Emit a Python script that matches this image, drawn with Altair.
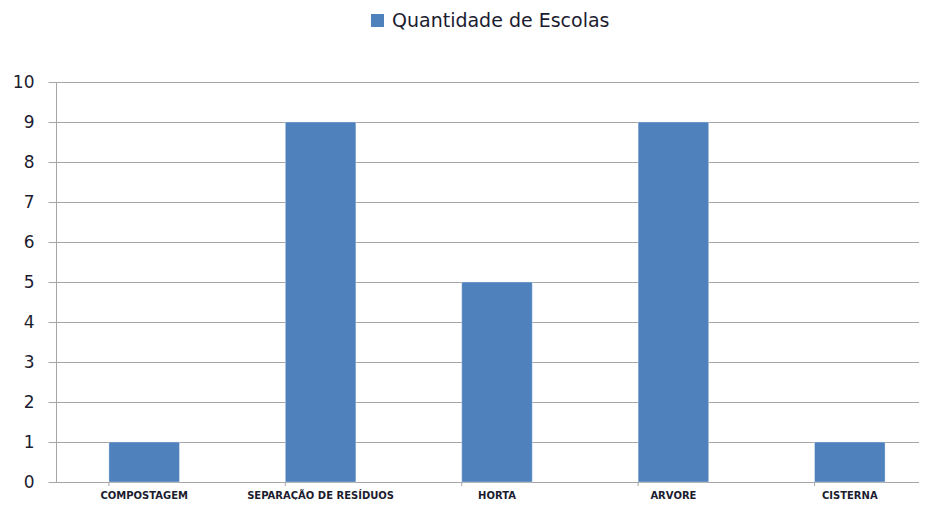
import altair as alt
import pandas as pd

categories = ["COMPOSTAGEM", "SEPARAÇÃO DE RESÍDUOS", "HORTA", "ARVORE", "CISTERNA"]
values = [1, 9, 5, 9, 1]
series_name = "Quantidade de Escolas"
y_ticks = [0, 1, 2, 3, 4, 5, 6, 7, 8, 9, 10]

df = pd.DataFrame({"cat": categories, "val": values, "series": [series_name] * len(categories)})

W, H = 863, 400
GRID = "#a6a6a6"
TXT = "#1c1c30"

xscale = alt.Scale(domain=categories, range=[0, 882], paddingInner=0.6, paddingOuter=0.3)
xaxis = alt.Axis(title=None, labelAngle=0, ticks=False, labelPadding=8, labelFontSize=10,
                 labelFont="DejaVu Sans", labelFontWeight="bold", labelColor=TXT,
                 domainColor=GRID, domainWidth=1, grid=False, labelLimit=300)

bars = alt.Chart(df).mark_bar(stroke="#ffffff", strokeOpacity=0.35, strokeWidth=1).encode(
    x=alt.X("cat:N", sort=categories, scale=xscale, axis=xaxis),
    y=alt.Y("val:Q", scale=alt.Scale(domain=[0, 10], nice=False),
            axis=alt.Axis(title=None, values=y_ticks, grid=True, gridColor=GRID, gridWidth=1,
                          tickColor=GRID, tickSize=8, domainColor=GRID, labelPadding=14,
                          labelFontSize=17, labelFont="DejaVu Sans", labelColor=TXT)),
    color=alt.Color("series:N", scale=alt.Scale(range=["#4f81bd"]),
                    legend=alt.Legend(title=None, orient="none", legendX=312, legendY=-71,
                                      symbolType="square", symbolSize=169, symbolStrokeWidth=0,
                                      labelFontSize=19, labelFont="DejaVu Sans", labelColor=TXT,
                                      labelOffset=5, labelLimit=500)),
)

ticks = alt.Chart(df).mark_rule(color=GRID, strokeWidth=1).encode(
    x=alt.X("cat:N", sort=categories, scale=xscale, axis=xaxis, bandPosition=0),
    y=alt.value(H),
    y2=alt.value(H + 4),
)

chart = alt.layer(bars, ticks).properties(
    width=W, height=H,
    autosize=alt.AutoSizeParams(type="none"),
    padding={"left": 48, "top": 74, "right": 0, "bottom": 18},
).configure_view(stroke=None)

chart.save("out.html", embed_options={"renderer": "svg", "actions": False})
